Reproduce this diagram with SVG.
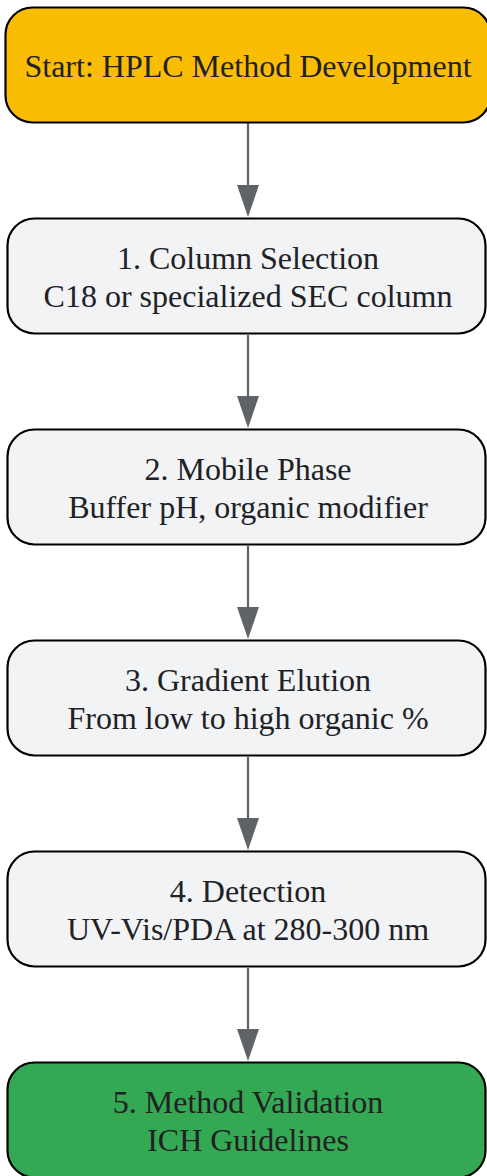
<svg xmlns="http://www.w3.org/2000/svg" width="487" height="1176" viewBox="0 0 487 1176">
<style>
.n{stroke:#000;stroke-width:2.2}
.t{font-family:"Liberation Serif","Times New Roman",serif;font-size:32px;fill:#202124;text-anchor:middle}
.e{stroke:#5f6368;stroke-width:2.2;fill:none}
.a{fill:#5f6368}
</style>
<rect width="487" height="1176" fill="#fff"/>
<g id="connectors">
<line class="e" x1="248" y1="123" x2="248" y2="186"/>
<path class="a" d="M237,185 L259,185 L248,217 Z"/>
<line class="e" x1="248" y1="335" x2="248" y2="397"/>
<path class="a" d="M237,396 L259,396 L248,428 Z"/>
<line class="e" x1="248" y1="546" x2="248" y2="608"/>
<path class="a" d="M237,607 L259,607 L248,639 Z"/>
<line class="e" x1="248" y1="757" x2="248" y2="819"/>
<path class="a" d="M237,818 L259,818 L248,850 Z"/>
<line class="e" x1="248" y1="968" x2="248" y2="1030"/>
<path class="a" d="M237,1029 L259,1029 L248,1061 Z"/>
</g>
<g id="start">
<rect class="n" x="5.5" y="7.5" width="485" height="115" rx="27" fill="#fbbc04"/>
<text class="t" x="248" y="77">Start: HPLC Method Development</text>
</g>
<g id="step1">
<rect class="n" x="7.5" y="218.5" width="478" height="115" rx="27" fill="#f1f3f4"/>
<text class="t" x="248" y="269">1. Column Selection</text>
<text class="t" x="248" y="307">C18 or specialized SEC column</text>
</g>
<g id="step2">
<rect class="n" x="7.5" y="429.5" width="478" height="115" rx="27" fill="#f1f3f4"/>
<text class="t" x="248" y="480">2. Mobile Phase</text>
<text class="t" x="248" y="518">Buffer pH, organic modifier</text>
</g>
<g id="step3">
<rect class="n" x="7.5" y="640.5" width="478" height="115" rx="27" fill="#f1f3f4"/>
<text class="t" x="248" y="691">3. Gradient Elution</text>
<text class="t" x="248" y="729">From low to high organic %</text>
</g>
<g id="step4">
<rect class="n" x="7.5" y="851.5" width="478" height="115" rx="27" fill="#f1f3f4"/>
<text class="t" x="248" y="902">4. Detection</text>
<text class="t" x="248" y="940">UV-Vis/PDA at 280-300 nm</text>
</g>
<g id="step5">
<rect class="n" x="7.5" y="1062.5" width="478" height="115" rx="27" fill="#34a853"/>
<text class="t" x="248" y="1113">5. Method Validation</text>
<text class="t" x="248" y="1151">ICH Guidelines</text>
</g>
</svg>
